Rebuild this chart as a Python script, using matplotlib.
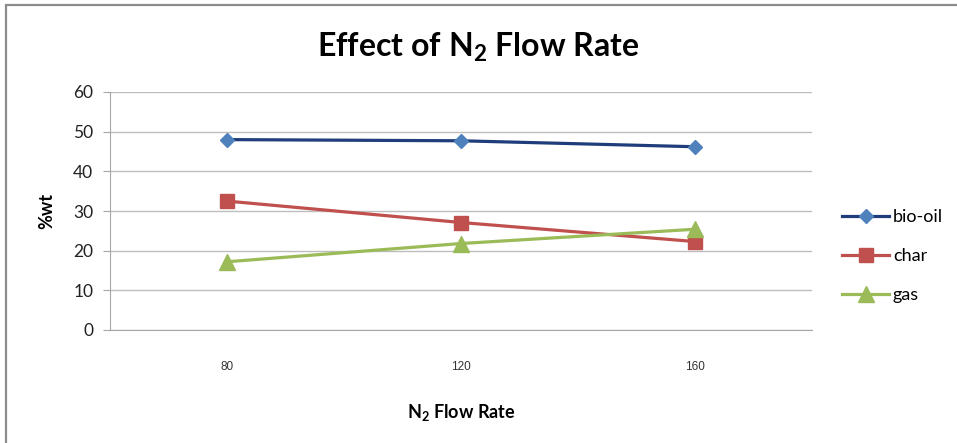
import matplotlib
matplotlib.use('Agg')
import matplotlib.pyplot as plt
from matplotlib.patches import Rectangle

# data
flow_rates = ['80', '120', '160']
bio_oil = [48.0, 47.7, 46.2]
char = [32.5, 27.1, 22.3]
gas = [17.2, 21.8, 25.4]

plt.rcParams['font.family'] = ['Lato', 'DejaVu Sans']
plt.rcParams['mathtext.default'] = 'regular'

fig = plt.figure(figsize=(9.57, 4.43), dpi=100)
ax = fig.add_axes([110 / 957, 113 / 443, 702 / 957, 238 / 443])

x = list(range(1, len(flow_rates) + 1))

ax.plot(x, bio_oil, color='#1F3D7A', linewidth=2.3,
        marker='D', markersize=7, markerfacecolor='#4F81BD',
        markeredgecolor='#4F81BD', label='bio-oil')
ax.plot(x, char, color='#C0504D', linewidth=2.3,
        marker='s', markersize=10, label='char')
ax.plot(x, gas, color='#9BBB59', linewidth=2.3,
        marker='^', markersize=11, label='gas')

ax.set_xlim(0.5, 3.5)
ax.set_ylim(0, 60)
ax.set_yticks(range(0, 61, 10))
ax.set_xticks(x)
ax.set_xticklabels(flow_rates, family=['Liberation Sans'], fontsize=8.5, color='#333333')

# gridlines
ax.grid(axis='y', color='#BDBDBD', linewidth=1)
ax.set_axisbelow(True)

for s in ['top', 'right']:
    ax.spines[s].set_visible(False)
ax.spines['left'].set_color('#A6A6A6')
ax.spines['bottom'].set_color('#A6A6A6')
ax.tick_params(axis='y', length=5, color='#A6A6A6', labelsize=12.5, pad=7, labelcolor='#222222')
ax.tick_params(axis='x', length=0, pad=22)

ax.set_ylabel('%wt', fontsize=13, fontweight='bold', labelpad=13)
ax.set_xlabel('N$_2$ Flow Rate', fontsize=13, fontweight='bold', labelpad=21)

fig.text(0.5, 1 - 47 / 443, 'Effect of N$_2$ Flow Rate', ha='center', va='center',
         fontsize=23, fontweight='bold')

ax.legend(loc='center left', bbox_to_anchor=(1.02, 0.31), frameon=False,
          fontsize=13, handlelength=2.6, handletextpad=0.2, labelspacing=1.28)

# outer chart border (only top and left visible in the crop)
fig.add_artist(Rectangle((5.5 / 957, -0.2), 1.5, 1.2 - 4.5 / 443, transform=fig.transFigure,
                         fill=False, edgecolor='#8C8C8C', linewidth=1.6, clip_on=False))

fig.savefig('out.png', dpi=100)
